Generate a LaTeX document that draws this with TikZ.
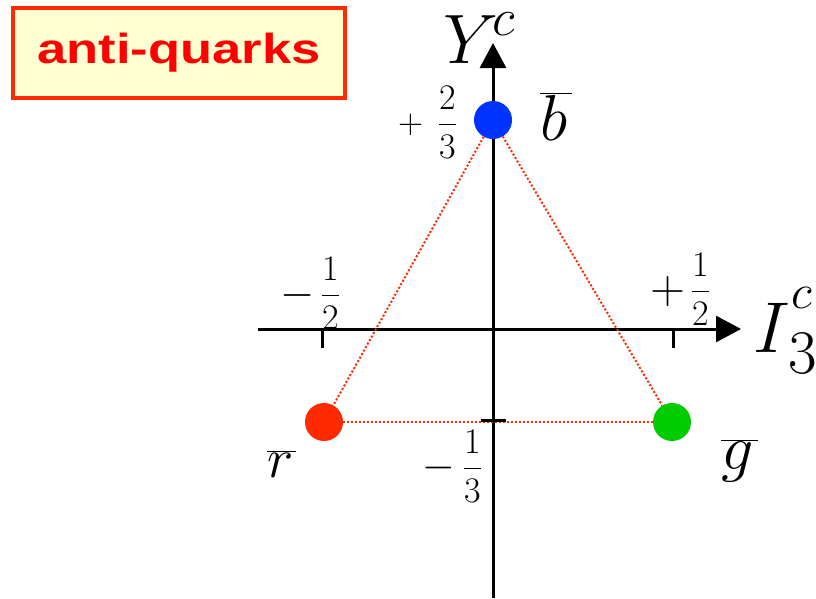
\RequirePackage{fix-cm}
\documentclass[tikz,border=0pt]{standalone}
\usepackage{graphicx}
\usepackage{fontspec}
\newfontfamily\labelfont{Liberation Sans}
\usetikzlibrary{arrows.meta}
\definecolor{boxfill}{HTML}{FFFFD2}
\definecolor{boxline}{HTML}{FF2A00}
\definecolor{txtred}{HTML}{FF0000}
\definecolor{qblue}{HTML}{0033FF}
\definecolor{qred}{HTML}{FF2A00}
\definecolor{qgreen}{HTML}{00CC00}
\newcommand\fs[1]{\fontsize{#1}{#1}\selectfont}
\newcommand\fr[2]{{\fs{36}$\displaystyle\frac{#1}{#2}$}}
\tikzset{
  axis/.style={line width=3pt, -{Triangle[length=25pt,width=26pt]}},
  tick/.style={line width=3pt},
  quark/.style={circle, minimum size=38pt, inner sep=0pt},
  tri/.style={qred, line width=2pt, dash pattern=on 2pt off 2pt},
  lbl/.style={inner sep=0pt, anchor=base west},
  frac/.style={inner sep=0pt, anchor=east},
}
\begin{document}
\begin{tikzpicture}[x=1pt,y=-1pt]
\useasboundingbox[fill=white] (0,0) rectangle (816,598);
% title box
\node[draw=boxline, line width=4pt, fill=boxfill, minimum width=332pt, minimum height=90pt, inner sep=0pt,
      font=\labelfont\bfseries\fs{42}, text=txtred] (title) at (179,53) {\scalebox{1.25}[1]{anti-quarks}};
% axes
\coordinate (xs) at (258,329);
\coordinate (xe) at (741,329);
\coordinate (ys) at (493,598);
\coordinate (ye) at (493,43);
\draw[axis] (xs) -- (xe);
\draw[axis] (ys) -- (ye);
% ticks
\coordinate (t1a) at (322,331); \coordinate (t1b) at (322,348);
\coordinate (t2a) at (673,331); \coordinate (t2b) at (673,348);
\coordinate (t3a) at (481,420); \coordinate (t3b) at (506,420);
\draw[tick] (t1a) -- (t1b);
\draw[tick] (t2a) -- (t2b);
% quarks
\node[quark, fill=qblue] (b) at (493,120) {};
\node[quark, fill=qred] (r) at (324,422) {};
\node[quark, fill=qgreen] (g) at (672,422) {};
\draw[tri] (b) -- (r);
\draw[tri] (b) -- (g);
\draw[tri] (r) -- (g);
\draw[tick] (t3a) -- (t3b);
% labels
\node[lbl] (Y) at (443,63) {\fs{70}$Y$\kern-6pt\raisebox{28pt}{\fs{53}$c$}};
\node[lbl] (I) at (753,352) {\fs{72}$I$\kern-1pt\rlap{\kern3pt\raisebox{44pt}{\fs{49}$c$}}\raisebox{-21pt}{\fs{62}3}};
\node[lbl] (bl) at (540,140) {\fs{65}$\overline{b\kern5pt}$};
\node[lbl] (rl) at (267,477) {\fs{56}$\overline{r\kern3pt}$};
\node[lbl] (gl) at (721,469) {\fs{64}$\overline{g\kern4pt}$};
\node[frac] (p23) at (457,122) {\scalebox{0.72}{\fs{48}$+$}\hspace{15pt}\fr{2}{3}};
\node[frac] (m12) at (340,293) {\raisebox{-2pt}{\fs{44}$-$}\hspace{6pt}\fr{1}{2}};
\node[frac] (p12) at (710,289) {\raisebox{-3pt}{\fs{48}$+$}\hspace{6pt}\fr{1}{2}};
\node[frac] (m13) at (482,466) {\raisebox{-1.5pt}{\fs{42}$-$}\hspace{8pt}\fr{1}{3}};
\end{tikzpicture}
\end{document}
